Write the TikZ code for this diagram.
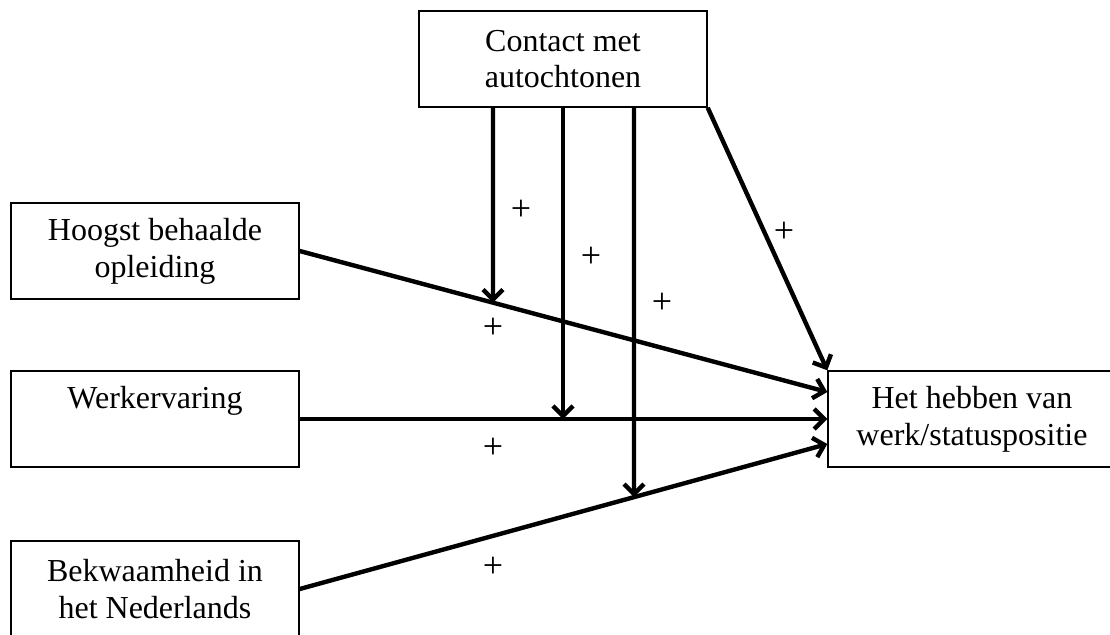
\documentclass[tikz,border=0pt]{standalone}
\usepackage{fontspec}
\setmainfont{Liberation Serif}
\usetikzlibrary{arrows.meta,calc}
\begin{document}
\begin{tikzpicture}[x=0.5pt,y=-0.5pt,>={Straight Barb[length=5pt,width=10pt]},
  box/.style={draw,line width=0.7pt,minimum width=144pt,minimum height=48pt,inner sep=0pt,
    align=center,font=\fontsize{16}{18.4}\selectfont},
  link/.style={->,line width=2.2pt},
  sign/.style={font=\fontsize{18}{20}\selectfont}]
  \useasboundingbox (0,0) rectangle (1110,634);
%%
  % Node: Contact
  \node[box] (contact) at (563,59) {Contact met\\autochtonen};
  % Node: Hoogst
  \node[box] (hoogst) at (155,251) {Hoogst behaalde\\opleiding};
  % Node: Werk
  \node[box] (werk) at (155,419) {Werkervaring\\\vphantom{p}};
  % Node: Bekwaam
  \node[box] (bekwaam) at (155,589) {Bekwaamheid in\\het Nederlands};
  % Node: Het
  \node[box] (het) at (972,419) {Het hebben van\\werk/statuspositie};
%%
  \coordinate (hoogstIn) at ($(het.west)+(0,-27)$);
  \coordinate (bekwaamIn) at ($(het.west)+(0,25)$);
  \coordinate (down1) at ($(contact.south)+(-70,0)$);
  \coordinate (down3) at ($(contact.south)+(71,0)$);
  \coordinate (hit1) at (intersection of hoogst.east--hoogstIn and down1--{$(down1)+(0,500)$});
  \coordinate (hit2) at (contact.south |- werk.east);
  \coordinate (hit3) at (intersection of bekwaam.east--bekwaamIn and down3--{$(down3)+(0,500)$});
  % Edge: Hoogst -> Het
  \draw[link] (hoogst.east) -- (hoogstIn);
  % Edge: Werk -> Het
  \draw[link] (werk.east) -- (het.west);
  % Edge: Bekwaam -> Het
  \draw[link] (bekwaam.east) -- (bekwaamIn);
  % Edge: Contact -> Het
  \draw[link] (contact.south east) -- (het.north west);
  % Edge: Contact -> Hoogst -> Het
  \draw[link] (down1) -- (hit1);
  % Edge: Contact -> Werk -> Het
  \draw[link] (contact.south) -- (hit2);
  % Edge: Contact -> Bekwaam -> Het
  \draw[link] (down3) -- (hit3);
%%
  \node[sign] (plus1) at (521,210) {+};
  \node[sign] (plus2) at (591,257) {+};
  \node[sign] (plus3) at (662,303) {+};
  \node[sign] (plus4) at (784,232) {+};
  \node[sign] (plus5) at (493,328) {+};
  \node[sign] (plus6) at (493,448) {+};
  \node[sign] (plus7) at (493,567) {+};
%
\end{tikzpicture}
\end{document}
